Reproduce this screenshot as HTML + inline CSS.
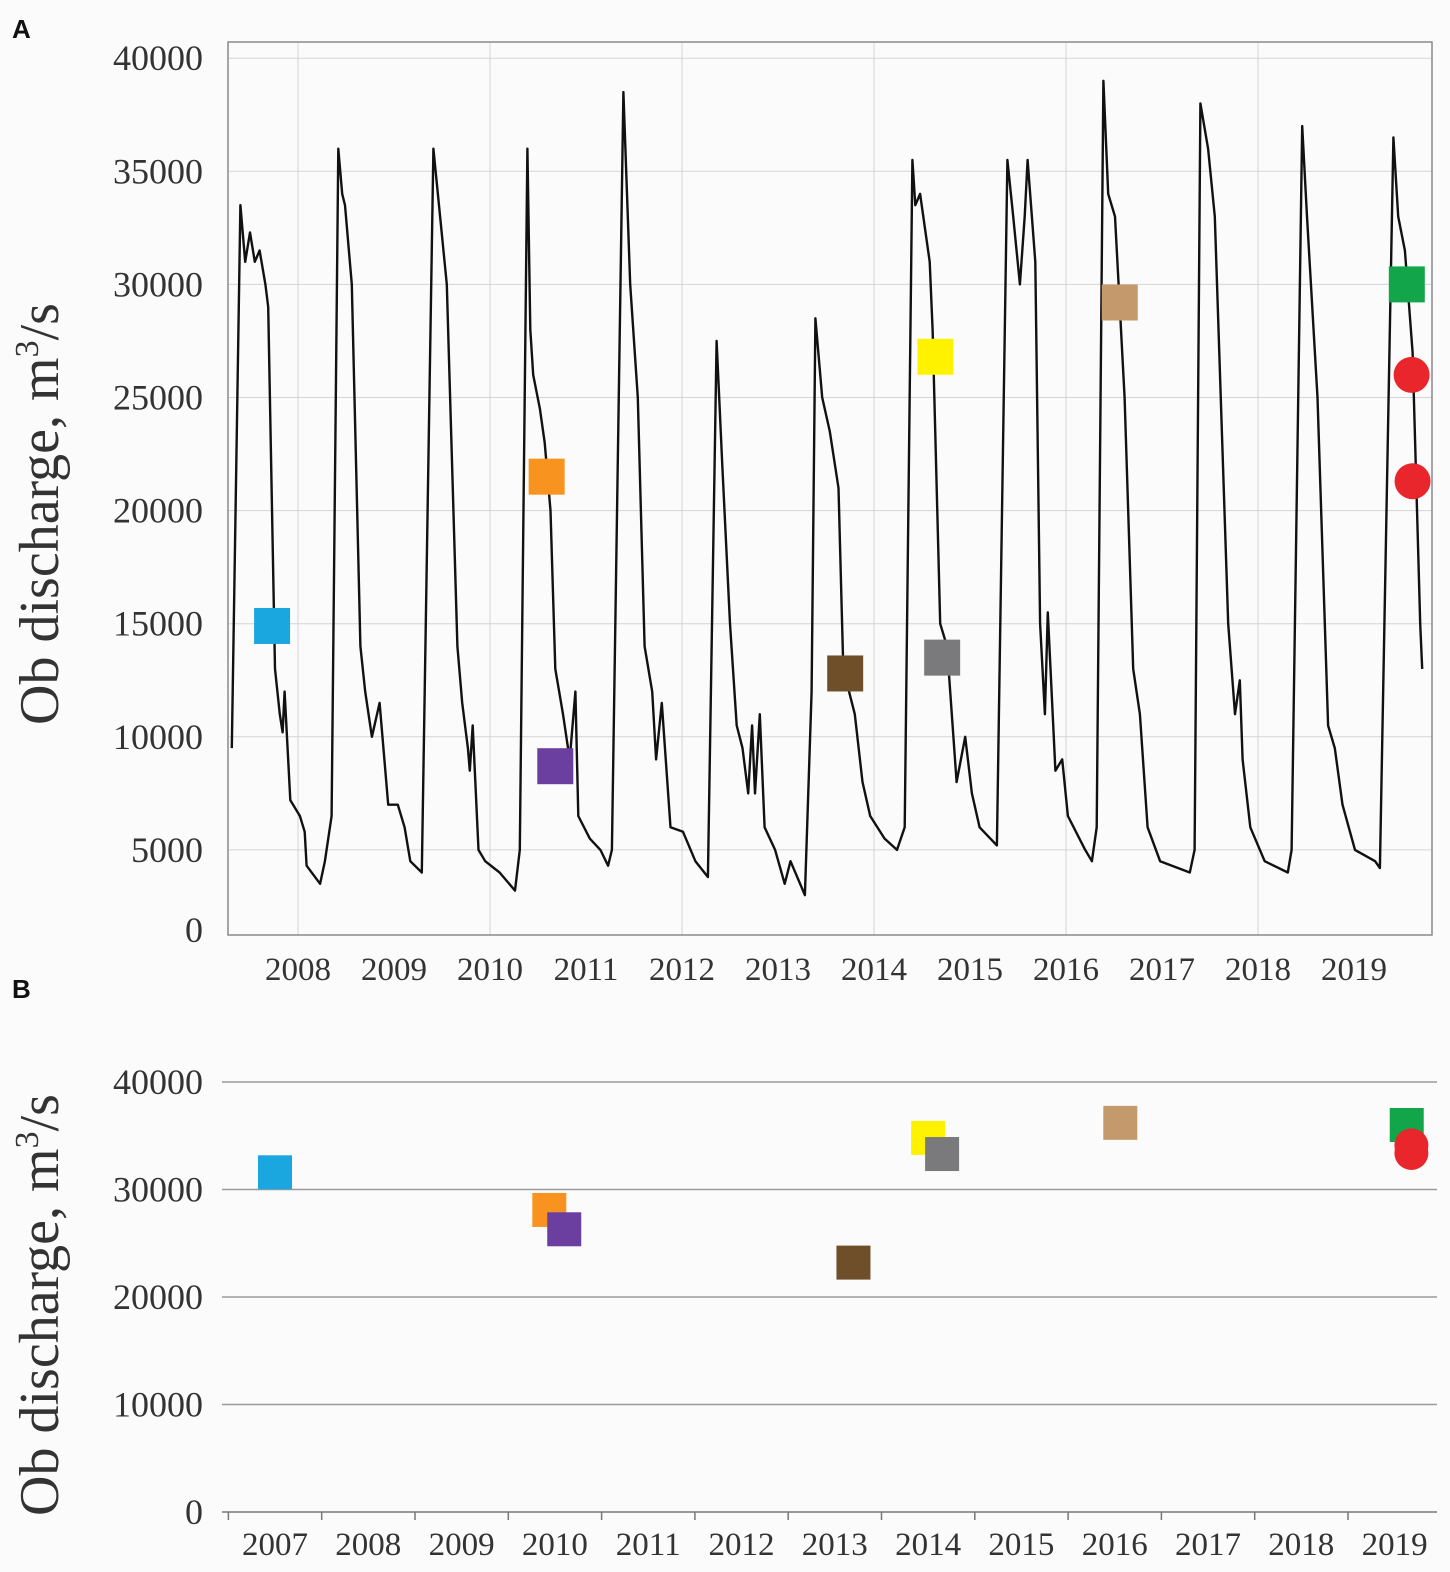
<!DOCTYPE html>
<html><head><meta charset="utf-8">
<style>
html,body{margin:0;padding:0;background:#fcfbfc;}
svg{display:block;}
text{font-family:"Liberation Serif",serif;fill:#333;}
</style></head>
<body>
<svg id="chart" width="1450" height="1572" xmlns="http://www.w3.org/2000/svg">
<rect x="0" y="0" width="1450" height="1572" fill="#fcfbfc"/>
<text x="12" y="38" style="font-family:'Liberation Sans',sans-serif;font-weight:bold;font-size:26px;fill:#111">A</text>
<text x="12" y="998" style="font-family:'Liberation Sans',sans-serif;font-weight:bold;font-size:26px;fill:#111">B</text>
<g id="panelA"></g>
<g id="panelB"></g>
</svg>
<script>
// ---- Panel A data ----
const aYTicks = [0,5000,10000,15000,20000,25000,30000,35000,40000];
const aXLabels = [2008,2009,2010,2011,2012,2013,2014,2015,2016,2017,2018,2019];
const aGridYears = [2008,2010,2012,2014,2016,2018];
const dischargeYears = [2007.31,2007.40,2007.45,2007.50,2007.55,2007.60,2007.66,2007.69,2007.76,2007.81,2007.84,2007.86,2007.92,2008.02,2008.07,2008.09,2008.23,2008.28,2008.35,2008.42,2008.46,2008.49,2008.56,2008.65,2008.70,2008.77,2008.85,2008.94,2009.04,2009.11,2009.17,2009.29,2009.41,2009.48,2009.55,2009.66,2009.71,2009.77,2009.79,2009.82,2009.88,2009.95,2010.10,2010.26,2010.31,2010.39,2010.42,2010.45,2010.52,2010.57,2010.63,2010.68,2010.76,2010.83,2010.89,2010.92,2011.04,2011.15,2011.23,2011.27,2011.39,2011.46,2011.54,2011.61,2011.69,2011.73,2011.79,2011.88,2012.01,2012.14,2012.27,2012.36,2012.42,2012.50,2012.57,2012.63,2012.69,2012.73,2012.76,2012.81,2012.86,2012.97,2013.07,2013.13,2013.28,2013.35,2013.39,2013.46,2013.54,2013.63,2013.68,2013.80,2013.88,2013.96,2014.11,2014.24,2014.32,2014.40,2014.43,2014.48,2014.58,2014.61,2014.69,2014.76,2014.86,2014.95,2015.02,2015.10,2015.28,2015.39,2015.45,2015.52,2015.57,2015.60,2015.68,2015.73,2015.78,2015.81,2015.89,2015.96,2016.02,2016.20,2016.27,2016.32,2016.39,2016.44,2016.51,2016.61,2016.70,2016.77,2016.85,2016.98,2017.29,2017.34,2017.40,2017.48,2017.55,2017.69,2017.76,2017.81,2017.84,2017.92,2018.07,2018.31,2018.35,2018.46,2018.51,2018.62,2018.73,2018.80,2018.88,2019.01,2019.22,2019.27,2019.41,2019.46,2019.53,2019.61,2019.67,2019.69,2019.71];
const dischargeValues = [9500,33500,31000,32300,31000,31500,30000,29000,13000,11000,10200,12000,7200,6500,5800,4300,3500,4500,6500,36000,34000,33500,30000,14000,12000,10000,11500,7000,7000,6000,4500,4000,36000,33000,30000,14000,11500,9500,8500,10500,5000,4500,4000,3200,5000,36000,28000,26000,24500,23000,20000,13000,11000,9000,12000,6500,5500,5000,4300,5000,38500,30000,25000,14000,12000,9000,11500,6000,5800,4500,3800,27500,22000,15000,10500,9500,7500,10500,7500,11000,6000,5000,3500,4500,3000,12000,28500,25000,23500,21000,13000,11000,8000,6500,5500,5000,6000,35500,33500,34000,31000,28000,15000,14000,8000,10000,7500,6000,5200,35500,33000,30000,33000,35500,31000,15000,11000,15500,8500,9000,6500,5000,4500,6000,39000,34000,33000,25000,13000,11000,6000,4500,4000,5000,38000,36000,33000,15000,11000,12500,9000,6000,4500,4000,5000,37000,33000,25000,10500,9500,7000,5000,4500,4200,36500,33000,31500,27000,18000,15000,13000];
const aMarkerNames = ["cyan","orange","purple","brown","gray","yellow","tan","green","red-1","red-2"];
const aMarkerYears = [2007.73,2010.59,2010.68,2013.70,2014.71,2014.64,2016.56,2019.55,2019.60,2019.61];
const aMarkerValues = [14900,21500,8700,12800,13500,26800,29200,30000,26000,21300];
// ---- Panel B data ----
const bYTicks = [0,10000,20000,30000,40000];
const bXLabels = [2007,2008,2009,2010,2011,2012,2013,2014,2015,2016,2017,2018,2019];
const bMarkerNames = ["cyan","orange","purple","brown","yellow","gray","tan","green","red-1","red-2"];
const bMarkerYears = [2007.0,2009.94,2010.1,2013.2,2014.0,2014.15,2016.06,2019.13,2019.18,2019.18];
const bMarkerValues = [31600,28100,26300,23200,34800,33300,36200,36000,34100,33400];

const colors = {cyan:"#1aa7e0",orange:"#f7931e",purple:"#6b3fa0",brown:"#6f4e2a",gray:"#7a7a7c",yellow:"#fff200",tan:"#c49a6c",green:"#12a54a","red-1":"#e8262b","red-2":"#e8262b"};
const NS="http://www.w3.org/2000/svg";
function mk(parent,tag,attrs){const e=document.createElementNS(NS,tag);for(const k in attrs)e.setAttribute(k,attrs[k]);parent.appendChild(e);return e;}

// Panel A
const A=document.getElementById('panelA');
const ax=t=>298+(t-2008)*96;
const ay=v=>963-v*0.02262;
aYTicks.forEach(v=>{
  if(v>0){const l=mk(A,'line',{x1:228,x2:1432,y1:ay(v),y2:ay(v),stroke:'#d4d4d6','stroke-width':1});
  
  }
  const t=mk(A,'text',{x:203,y:(v===0?930:ay(v))+12,'text-anchor':'end','font-size':36});
  t.textContent=v;
  
  
});
aGridYears.forEach(y=>{
  const l=mk(A,'line',{x1:ax(y),x2:ax(y),y1:42,y2:935,stroke:'#d4d4d6','stroke-width':1});
  
  
});
const fr=mk(A,'rect',{x:228,y:42,width:1204,height:893,fill:'none',stroke:'#8a8a8c','stroke-width':1.5});


aXLabels.forEach(y=>{
  const t=mk(A,'text',{x:ax(y),y:980,'text-anchor':'middle','font-size':33});
  t.textContent=y;
  
  
});
let d='';
dischargeYears.forEach((t,i)=>{d+=(i?'L':'M')+ax(t).toFixed(1)+' '+ay(dischargeValues[i]).toFixed(1);});
const line=mk(A,'path',{d:d,fill:'none',stroke:'#111','stroke-width':2.4,'stroke-linejoin':'round'});


aMarkerNames.forEach((n,i)=>{
  const cx=ax(aMarkerYears[i]),cy=ay(aMarkerValues[i]);
  let m;
  if(n.startsWith('red')) m=mk(A,'circle',{cx:cx,cy:cy,r:18,fill:colors[n]});
  else m=mk(A,'rect',{x:cx-18,y:cy-18,width:36,height:36,fill:colors[n]});
  
  
});
const ta=mk(A,'text',{x:0,y:0,'text-anchor':'middle','font-size':56,transform:'translate(58,514) rotate(-90)'});
ta.innerHTML='Ob discharge, m<tspan dy="-20" font-size="34">3</tspan><tspan dy="20">/s</tspan>';



// Panel B
const B=document.getElementById('panelB');
const bx=t=>275+(t-2007)*93.3;
const by=v=>1512-v*0.01075;
bYTicks.forEach(v=>{
  const l=mk(B,'line',{x1:222,x2:1437,y1:by(v),y2:by(v),stroke:v===0?'#777':'#9a9a9c','stroke-width':1.5});
  
  
  const t=mk(B,'text',{x:203,y:by(v)+12,'text-anchor':'end','font-size':36});
  t.textContent=v;
  
  
});
bXLabels.forEach(y=>{
  const tk=mk(B,'line',{x1:bx(y)-46.6,x2:bx(y)-46.6,y1:1512,y2:1520,stroke:'#777','stroke-width':1.5});
  
  
  const t=mk(B,'text',{x:bx(y),y:1555,'text-anchor':'middle','font-size':33});
  t.textContent=y;
  
  
});
bMarkerNames.forEach((n,i)=>{
  const cx=bx(bMarkerYears[i]),cy=by(bMarkerValues[i]);
  let m;
  if(n.startsWith('red')) m=mk(B,'circle',{cx:cx,cy:cy,r:17,fill:colors[n]});
  else m=mk(B,'rect',{x:cx-17,y:cy-17,width:34,height:34,fill:colors[n]});
  
  
});
const tb=mk(B,'text',{x:0,y:0,'text-anchor':'middle','font-size':56,transform:'translate(58,1305) rotate(-90)'});
tb.innerHTML='Ob discharge, m<tspan dy="-20" font-size="34">3</tspan><tspan dy="20">/s</tspan>';


</script>
</body></html>
